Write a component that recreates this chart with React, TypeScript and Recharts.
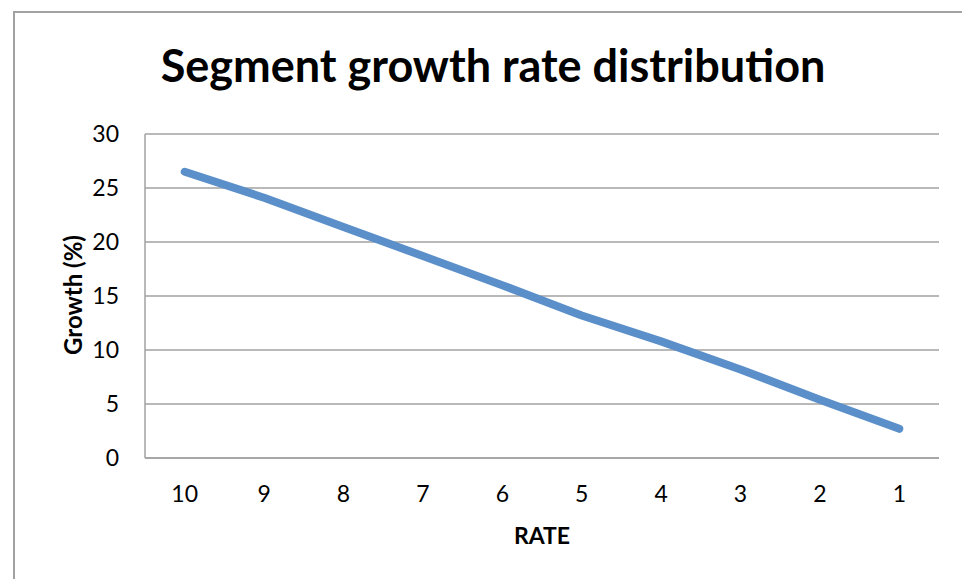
import React from "react";
import { LineChart, Line, XAxis, YAxis, CartesianGrid, Label } from "recharts";

// Growth per rate bucket, highest rate first
const rates = ["10", "9", "8", "7", "6", "5", "4", "3", "2", "1"];
const growth = [26.5, 24.1, 21.4, 18.7, 16.0, 13.2, 10.8, 8.2, 5.4, 2.7];
const yTicks = [0, 5, 10, 15, 20, 25, 30];

const data = rates.map((rate, i) => ({ rate, growth: growth[i] }));

const FONT = "Lato, 'Open Sans', sans-serif";
const GRID = "#a2a2a2";

const YTitle = (props: any) => {
  const vb = props.viewBox || {};
  const cx = 82;
  const cy = (vb.y || 0) + (vb.height || 0) / 2 - 1;
  return (
    <text
      x={cx}
      y={cy}
      transform={`rotate(-90 ${cx} ${cy})`}
      textAnchor="middle"
      fontFamily={FONT}
      fontWeight={700}
      fontSize={24}
      fill="#000"
    >
      Growth (%)
    </text>
  );
};

const App: React.FC = () => {
  return (
    <div style={{ position: "absolute", left: 0, top: 0, width: 962, height: 579, background: "#fff", overflow: "hidden" }}>
      {/* chart frame, only top and left edges fall inside the view */}
      <div
        style={{
          position: "absolute",
          left: 13,
          top: 11,
          width: 1000,
          height: 700,
          borderTop: `2px solid ${GRID}`,
          borderLeft: `2px solid ${GRID}`,
        }}
      />
      <div
        style={{
          position: "absolute",
          left: 0,
          top: 40,
          width: 986,
          textAlign: "center",
          fontFamily: FONT,
          fontWeight: 700,
          fontSize: 45,
          lineHeight: "50px",
          color: "#000",
        }}
      >
        Segment growth rate distribution
      </div>
      <div style={{ position: "absolute", left: 0, top: 0 }}>
        <LineChart width={962} height={579} data={data} margin={{ top: 134, right: 23, left: 0, bottom: 0 }}>
          <CartesianGrid vertical={false} stroke={GRID} strokeWidth={1.5} />
          <XAxis
            dataKey="rate"
            scale="band"
            height={121}
            tickLine={false}
            tickSize={0}
            tickMargin={28}
            axisLine={{ stroke: GRID, strokeWidth: 1.5 }}
            tick={{ fill: "#000", fontFamily: FONT, fontSize: 23 }}
          >
            <Label
              value="RATE"
              position="insideBottom"
              offset={35}
              fill="#000"
              fontFamily={FONT}
              fontWeight={700}
              fontSize={23}
            />
          </XAxis>
          <YAxis
            width={145}
            domain={[0, 30]}
            ticks={yTicks}
            interval={0}
            tickLine={false}
            tickSize={0}
            tickMargin={26}
            axisLine={{ stroke: GRID, strokeWidth: 1.5 }}
            tick={{ fill: "#000", fontFamily: FONT, fontSize: 23 }}
          >
            <Label content={YTitle} />
          </YAxis>
          <Line
            type="linear"
            dataKey="growth"
            stroke="#5b8fc9"
            strokeWidth={8}
            strokeLinecap="round"
            strokeLinejoin="round"
            dot={false}
            activeDot={false}
            isAnimationActive={false}
          />
        </LineChart>
      </div>
    </div>
  );
};

export default App;
